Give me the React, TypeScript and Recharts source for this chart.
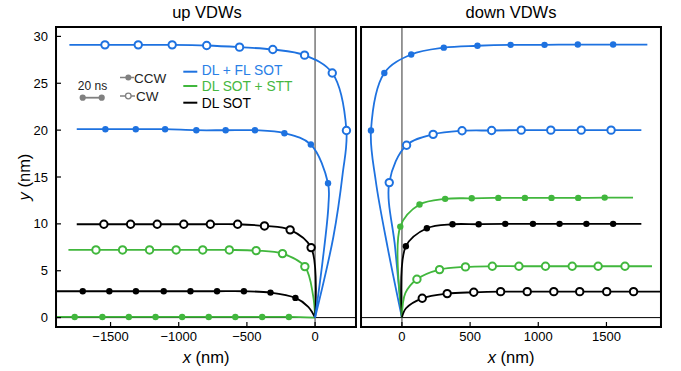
import React from 'react'
import { ComposedChart, Line, Scatter, XAxis, YAxis, ReferenceLine } from 'recharts'

const BLUE = '#1e72e0'
const GREEN = '#41b73d'
const BLACK = '#000000'
const GRAY = '#808080'
const FONT = '"Liberation Sans", Arial, Helvetica, sans-serif'

// ---- up VDWs (left panel), [x nm, y nm]
const upBlueCW = [[-1541, 29.1], [-1297, 29.1], [-1048, 29.1], [-795, 29.03], [-554, 28.85], [-310, 28.6], [-77, 28.0], [126, 26.1], [230, 19.96]]
const upBlueCWFit = [[-1802, 29.1], [-1541, 29.1], [-1297, 29.1], [-1048, 29.1], [-795, 29.03], [-554, 28.85], [-310, 28.6], [-77, 28.0], [126, 26.1], [230, 19.96], [202, 15.3], [134, 8.6], [0, 0]]
const upBlueCCW = [[-1538, 20.1], [-1315, 20.1], [-1100, 20.1], [-871, 19.99], [-656, 19.99], [-441, 19.99], [-225, 19.67], [-31, 18.46], [95, 14.33]]
const upBlueCCWFit = [[-1748, 20.1], [-1538, 20.1], [-1315, 20.1], [-1100, 20.1], [-871, 19.99], [-656, 19.99], [-441, 19.99], [-225, 19.67], [-31, 18.46], [95, 14.33], [98, 12], [55, 6], [0, 0]]
const upBlackCW = [[-1549, 9.96], [-1353, 9.96], [-1158, 9.96], [-963, 9.96], [-768, 9.96], [-568, 9.96], [-371, 9.78], [-183, 9.36], [-29, 7.47]]
const upBlackCWFit = [[-1748, 9.96], [-1549, 9.96], [-1353, 9.96], [-1158, 9.96], [-963, 9.96], [-768, 9.96], [-568, 9.96], [-371, 9.78], [-183, 9.36], [-29, 7.47], [0, 0]]
const upGreenCW = [[-1607, 7.22], [-1412, 7.22], [-1214, 7.22], [-1019, 7.22], [-824, 7.22], [-629, 7.22], [-432, 7.15], [-239, 6.83], [-75, 5.44]]
const upGreenCWFit = [[-1809, 7.22], [-1607, 7.22], [-1412, 7.22], [-1214, 7.22], [-1019, 7.22], [-824, 7.22], [-629, 7.22], [-432, 7.15], [-239, 6.83], [-75, 5.44], [-14, 2.3], [0, 0]]
const upBlackCCW = [[-1704, 2.81], [-1509, 2.81], [-1314, 2.81], [-1110, 2.81], [-914, 2.81], [-719, 2.81], [-522, 2.81], [-327, 2.67], [-144, 2.1]]
const upBlackCCWFit = [[-1900, 2.81], [-1704, 2.81], [-1509, 2.81], [-1314, 2.81], [-1110, 2.81], [-914, 2.81], [-719, 2.81], [-522, 2.81], [-327, 2.67], [-144, 2.1], [-50, 1.15], [0, 0]]
const upGreenCCW = [[-1763, 0.07], [-1560, 0.07], [-1366, 0.07], [-1170, 0.07], [-975, 0.07], [-780, 0.07], [-585, 0.07], [-388, 0.07], [-192, 0.07]]
const upGreenCCWFit = [[-1900, 0.07], [-1763, 0.07], [-1560, 0.07], [-1366, 0.07], [-1170, 0.07], [-975, 0.07], [-780, 0.07], [-585, 0.07], [-388, 0.07], [-192, 0.07], [0, 0]]

// ---- down VDWs (right panel)
const downBlueCCW = [[-227, 19.96], [-129, 26.1], [68, 28.07], [307, 28.8], [554, 29.0], [797, 29.1], [1046, 29.1], [1290, 29.13], [1549, 29.13]]
const downBlueCCWFit = [[0, 0], [-105, 7.5], [-192, 14.6], [-227, 19.96], [-129, 26.1], [68, 28.07], [307, 28.8], [554, 29.0], [797, 29.1], [1046, 29.1], [1290, 29.13], [1549, 29.13], [1800, 29.13]]
const downBlueCW = [[-93, 14.4], [34, 18.39], [229, 19.55], [441, 19.93], [658, 19.96], [875, 20], [1092, 20], [1315, 20], [1534, 20]]
const downBlueCWFit = [[0, 0], [-50, 7.5], [-93, 14.4], [34, 18.39], [229, 19.55], [441, 19.93], [658, 19.96], [875, 20], [1092, 20], [1315, 20], [1534, 20], [1756, 20]]
const downGreenCCW = [[-12, 9.71], [129, 12.06], [317, 12.67], [512, 12.73], [707, 12.77], [902, 12.77], [1097, 12.77], [1293, 12.77], [1487, 12.8]]
const downGreenCCWFit = [[0, 0], [-12, 9.71], [129, 12.06], [317, 12.67], [512, 12.73], [707, 12.77], [902, 12.77], [1097, 12.77], [1293, 12.77], [1487, 12.8], [1695, 12.8]]
const downBlackCCW = [[29, 7.61], [183, 9.53], [371, 9.96], [563, 9.96], [758, 10], [961, 10], [1156, 10], [1353, 10], [1549, 10]]
const downBlackCCWFit = [[0, 0], [29, 7.61], [183, 9.53], [371, 9.96], [563, 9.96], [758, 10], [961, 10], [1156, 10], [1353, 10], [1549, 10], [1756, 10]]
const downGreenCW = [[110, 4.09], [276, 5.12], [466, 5.41], [663, 5.48], [858, 5.48], [1053, 5.48], [1249, 5.48], [1439, 5.48], [1636, 5.48]]
const downGreenCWFit = [[0, 0], [25, 2.6], [110, 4.09], [276, 5.12], [466, 5.41], [663, 5.48], [858, 5.48], [1053, 5.48], [1249, 5.48], [1439, 5.48], [1636, 5.48], [1834, 5.48]]
const downBlackCW = [[149, 2.06], [332, 2.56], [527, 2.7], [724, 2.77], [919, 2.77], [1114, 2.77], [1304, 2.77], [1502, 2.77], [1699, 2.77]]
const downBlackCWFit = [[0, 0], [30, 1.0], [149, 2.06], [332, 2.56], [527, 2.7], [724, 2.77], [919, 2.77], [1114, 2.77], [1304, 2.77], [1502, 2.77], [1699, 2.77], [1900, 2.77]]

// ticks
const upMajorX = [-1500, -1000, -500, 0]
const upMinorX = [-1800, -1700, -1600, -1500, -1400, -1300, -1200, -1100, -1000, -900, -800, -700, -600, -500, -400, -300, -200, -100, 0, 100, 200]
const downMajorX = [0, 500, 1000, 1500]
const downMinorX = [-200, -100, 0, 100, 200, 300, 400, 500, 600, 700, 800, 900, 1000, 1100, 1200, 1300, 1400, 1500, 1600, 1700, 1800]
const majorY = [0, 5, 10, 15, 20, 25, 30]
const minorY = [0, 1, 2, 3, 4, 5, 6, 7, 8, 9, 10, 11, 12, 13, 14, 15, 16, 17, 18, 19, 20, 21, 22, 23, 24, 25, 26, 27, 28, 29, 30]

const toPts = (a: number[][]) => a.map(([x, y]) => ({ x, y }))

// centripetal catmull-rom, works for curves that turn back in x
const smooth = (ctx: any) => {
  let pts: number[][] = []
  return {
    areaStart() {},
    areaEnd() {},
    lineStart() { pts = [] },
    point(x: number, y: number) { pts.push([+x, +y]) },
    lineEnd() {
      const n = pts.length
      if (!n) return
      ctx.moveTo(pts[0][0], pts[0][1])
      const d = (a: number[], b: number[]) => Math.sqrt(Math.hypot(a[0] - b[0], a[1] - b[1]))
      for (let i = 0; i < n - 1; i++) {
        const p0 = pts[i - 1] || pts[i], p1 = pts[i], p2 = pts[i + 1], p3 = pts[i + 2] || p2
        const l01 = d(p0, p1), l12 = d(p1, p2), l23 = d(p2, p3)
        let c1x = p1[0], c1y = p1[1], c2x = p2[0], c2y = p2[1]
        if (l01 > 1e-6) {
          const a = 2 * l01 * l01 + 3 * l01 * l12 + l12 * l12, m = 3 * l01 * (l01 + l12)
          c1x = (p1[0] * a - p0[0] * l12 * l12 + p2[0] * l01 * l01) / m
          c1y = (p1[1] * a - p0[1] * l12 * l12 + p2[1] * l01 * l01) / m
        }
        if (l23 > 1e-6) {
          const b = 2 * l23 * l23 + 3 * l23 * l12 + l12 * l12, m = 3 * l23 * (l23 + l12)
          c2x = (p2[0] * b + p1[0] * l23 * l23 - p3[0] * l12 * l12) / m
          c2y = (p2[1] * b + p1[1] * l23 * l23 - p3[1] * l12 * l12) / m
        }
        ctx.bezierCurveTo(c1x, c1y, c2x, c2y, p2[0], p2[1])
      }
    },
  }
}

const fmt = (v: number) => (v < 0 ? `\u2212${-v}` : `${v}`)

const marker = (color: string, open: boolean) => (p: any) =>
  open
    ? <circle cx={p.cx} cy={p.cy} r={3.7} fill="#fff" stroke={color} strokeWidth={2} />
    : <circle cx={p.cx} cy={p.cy} r={3.2} fill={color} />

const upSeries = [
  { fit: upGreenCCWFit, marks: upGreenCCW, color: GREEN, open: false },
  { fit: upBlackCCWFit, marks: upBlackCCW, color: BLACK, open: false },
  { fit: upGreenCWFit, marks: upGreenCW, color: GREEN, open: true },
  { fit: upBlackCWFit, marks: upBlackCW, color: BLACK, open: true },
  { fit: upBlueCCWFit, marks: upBlueCCW, color: BLUE, open: false },
  { fit: upBlueCWFit, marks: upBlueCW, color: BLUE, open: true },
]
const downSeries = [
  { fit: downBlueCCWFit, marks: downBlueCCW, color: BLUE, open: false },
  { fit: downBlueCWFit, marks: downBlueCW, color: BLUE, open: true },
  { fit: downGreenCCWFit, marks: downGreenCCW, color: GREEN, open: false },
  { fit: downBlackCCWFit, marks: downBlackCCW, color: BLACK, open: false },
  { fit: downGreenCWFit, marks: downGreenCW, color: GREEN, open: true },
  { fit: downBlackCWFit, marks: downBlackCW, color: BLACK, open: true },
]

const frame = { stroke: '#000', strokeWidth: 2, strokeLinecap: 'square' as const }
const tl = { stroke: '#000', strokeWidth: 1.2 }
const tickFont = { fill: '#000', fontSize: 13, fontFamily: FONT }
const THIN = 0.01 // axes with zero size are not drawn

const Panel = ({ left, width, margin, domain, major, minor, yLabels, series }: any) => (
  <div style={{ position: 'absolute', left, top: 0 }}>
    <ComposedChart width={width} height={371} margin={margin}>
      <XAxis xAxisId="bm" type="number" dataKey="x" domain={domain} allowDataOverflow ticks={minor} interval={0} height={THIN} tick={false} tickSize={-3} axisLine={false} tickLine={tl} />
      <XAxis xAxisId="t" orientation="top" type="number" dataKey="x" domain={domain} allowDataOverflow ticks={major} interval={0} height={THIN} tick={false} tickSize={-5} axisLine={frame} tickLine={tl} />
      <XAxis xAxisId="tm" orientation="top" type="number" dataKey="x" domain={domain} allowDataOverflow ticks={minor} interval={0} height={THIN} tick={false} tickSize={-3} axisLine={false} tickLine={tl} />
      <XAxis xAxisId="b" type="number" dataKey="x" domain={domain} allowDataOverflow ticks={major} interval={0} height={THIN} tickSize={-5} tickMargin={10} tick={tickFont} tickFormatter={fmt} axisLine={frame} tickLine={tl} />
      <YAxis yAxisId="lm" type="number" dataKey="y" domain={[-1, 31]} allowDataOverflow ticks={minorY} interval={0} width={THIN} tick={false} tickSize={-3} axisLine={false} tickLine={tl} />
      <YAxis yAxisId="r" orientation="right" type="number" dataKey="y" domain={[-1, 31]} allowDataOverflow ticks={majorY} interval={0} width={THIN} tick={false} tickSize={-5} axisLine={frame} tickLine={tl} />
      <YAxis yAxisId="rm" orientation="right" type="number" dataKey="y" domain={[-1, 31]} allowDataOverflow ticks={minorY} interval={0} width={THIN} tick={false} tickSize={-3} axisLine={false} tickLine={tl} />
      <YAxis yAxisId="l" type="number" dataKey="y" domain={[-1, 31]} allowDataOverflow ticks={majorY} interval={0} width={THIN} tickSize={-5} tickMargin={13} tick={yLabels ? tickFont : false} axisLine={frame} tickLine={tl} />
      <ReferenceLine xAxisId="b" yAxisId="l" y={0} stroke="#000" strokeWidth={1} />
      <ReferenceLine xAxisId="b" yAxisId="l" x={0} stroke="#777" strokeWidth={1.5} />
      {series.map((s: any, i: number) => (
        <Line key={'l' + i} xAxisId="b" yAxisId="l" data={toPts(s.fit)} dataKey="y" type={smooth as any} stroke={s.color} strokeWidth={1.8} dot={false} activeDot={false} isAnimationActive={false} />
      ))}
      {series.map((s: any, i: number) => (
        <Scatter key={'s' + i} xAxisId="b" yAxisId="l" data={toPts(s.marks)} fill={s.color} shape={marker(s.color, s.open)} isAnimationActive={false} />
      ))}
    </ComposedChart>
  </div>
)

const Overlay = () => (
  <svg width={681} height={371} style={{ position: 'absolute', left: 0, top: 0, pointerEvents: 'none' }} fontFamily={FONT}>
    <text x={207} y={18} fontSize={16.5} textAnchor="middle">up VDWs</text>
    <text x={511} y={18} fontSize={16.5} textAnchor="middle">down VDWs</text>
    <text x={206} y={362.5} fontSize={16.5} textAnchor="middle"><tspan fontStyle="italic">x</tspan> (nm)</text>
    <text x={511} y={362.5} fontSize={16.5} textAnchor="middle"><tspan fontStyle="italic">x</tspan> (nm)</text>
    <text transform="translate(30,177) rotate(-90)" fontSize={16.5} textAnchor="middle"><tspan fontStyle="italic">y</tspan> (nm)</text>

    <text x={92.5} y={90} fontSize={12} textAnchor="middle" fill="#222">20 ns</text>
    <line x1={82.7} y1={97.7} x2={101.7} y2={97.7} stroke={GRAY} strokeWidth={1.8} />
    <circle cx={82.7} cy={97.7} r={3.1} fill={GRAY} />
    <circle cx={101.7} cy={97.7} r={3.1} fill={GRAY} />

    <line x1={120} y1={77.5} x2={134} y2={77.5} stroke={GRAY} strokeWidth={1.5} />
    <circle cx={128.3} cy={77.5} r={3} fill={GRAY} />
    <text x={134} y={82.7} fontSize={13.5} fill="#222">CCW</text>
    <line x1={120} y1={96} x2={135} y2={96} stroke={GRAY} strokeWidth={1.5} />
    <circle cx={128.3} cy={96} r={2.8} fill="#fff" stroke={GRAY} strokeWidth={1.3} />
    <text x={136} y={100.7} fontSize={13.5} fill="#222">CW</text>

    <line x1={183.3} y1={71.7} x2={197.3} y2={71.7} stroke={BLUE} strokeWidth={2} />
    <text x={201.7} y={75} fontSize={13.8} fill="#2a80e6">DL + FL SOT</text>
    <line x1={183.3} y1={86} x2={197.3} y2={86} stroke={GREEN} strokeWidth={2} />
    <text x={201.7} y={90.7} fontSize={13.8} fill="#46b842">DL SOT + STT</text>
    <line x1={183.3} y1={102.7} x2={197.3} y2={102.7} stroke={BLACK} strokeWidth={2} />
    <text x={201.7} y={107.7} fontSize={13.8} fill="#000">DL SOT</text>
  </svg>
)

export default function App() {
  return (
    <div style={{ position: 'absolute', left: 0, top: 0, width: 681, height: 371, background: '#fff', fontFamily: FONT }}>
      <Panel left={0} width={360} margin={{ top: 27, right: 4, bottom: 44, left: 56 }} domain={[-1900, 300]} major={upMajorX} minor={upMinorX} yLabels series={upSeries} />
      <Panel left={360} width={321} margin={{ top: 27, right: 20, bottom: 44, left: 1 }} domain={[-300, 1900]} major={downMajorX} minor={downMinorX} yLabels={false} series={downSeries} />
      <Overlay />
    </div>
  )
}
